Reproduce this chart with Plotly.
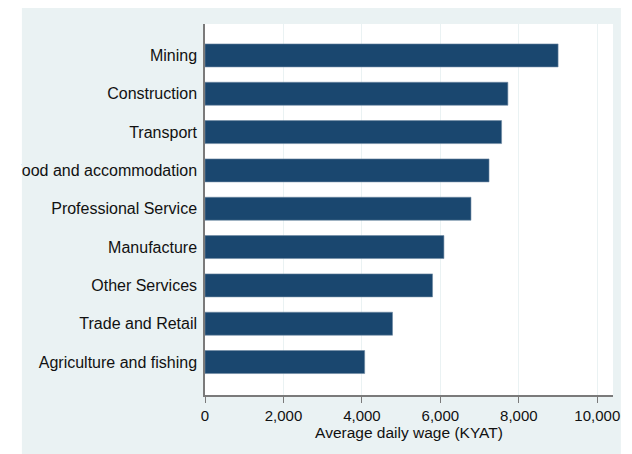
import plotly.graph_objects as go

# sectors listed bottom-to-top (plotly draws category 0 at the bottom)
sectors = ['Agriculture and fishing', 'Trade and Retail', 'Other Services', 'Manufacture',
           'Professional Service', 'Food and accommodation', 'Transport', 'Construction', 'Mining']
wages = [4070, 4780, 5800, 6090, 6780, 7240, 7560, 7720, 9000]
x_ticks = [0, 2000, 4000, 6000, 8000, 10000]
x_ticktext = ['0', '2,000', '4,000', '6,000', '8,000', '10,000']

W, H = 632, 454
L, R, T, B = 199, 19, 24, 59
pw, ph = W - L - R, H - T - B

def px_x(p):
    # figure pixel -> paper fraction
    return (p - L) / pw

def px_y(p):
    return (H - B - p) / ph

fig = go.Figure()
fig.add_trace(go.Bar(
    x=wages, y=sectors, orientation='h',
    marker=dict(color='#1a476f', line=dict(color='#6e8aa3', width=0.6)),
    width=0.6,
))

font = dict(family='Arial, Liberation Sans, sans-serif', color='#111111')

fig.update_layout(
    width=W, height=H,
    margin=dict(l=L, r=R, t=T, b=B),
    paper_bgcolor='white',
    plot_bgcolor='white',
    font=dict(**font, size=15),
    showlegend=False,
    xaxis=dict(
        range=[0, 10400],
        tickvals=x_ticks, ticktext=x_ticktext,
        showgrid=True, gridcolor='#eaf2f3', gridwidth=1,
        showline=True, linecolor='#7a7a7a', linewidth=1.5,
        ticks='outside', ticklen=6, tickcolor='#7a7a7a',
        tickfont=dict(size=15),
        zeroline=False,
        title=dict(text='Average daily wage (KYAT)', font=dict(size=15.5), standoff=0),
    ),
    yaxis=dict(
        type='category',
        categoryorder='array', categoryarray=sectors,
        range=[-0.86, 8.82],
        showgrid=False,
        showline=True, linecolor='#7a7a7a', linewidth=1.5,
        ticks='', ticklabelstandoff=3,
        tickfont=dict(size=16),
        zeroline=False,
    ),
    shapes=[
        # light blue graph region behind everything
        dict(type='rect', xref='paper', yref='paper', layer='below',
             x0=px_x(13), x1=px_x(621), y0=px_y(454), y1=px_y(8),
             fillcolor='#eaf2f3', line=dict(width=0)),
        # white plot area
        dict(type='rect', xref='paper', yref='paper', layer='below',
             x0=0, x1=1, y0=0, y1=1,
             fillcolor='white', line=dict(width=0)),
        # white strip on the far left clipping the long label
        dict(type='rect', xref='paper', yref='paper', layer='above',
             x0=px_x(0), x1=px_x(13), y0=px_y(454), y1=px_y(0),
             fillcolor='white', line=dict(width=0)),
    ],
)

# no body margin and no scrollbars, so the figure fills the window exactly
page_css = ("document.body.style.margin='0';"
            "document.body.style.overflow='hidden';"
            "document.documentElement.style.overflow='hidden';")
fig.write_html("out.html", config={'displayModeBar': False}, post_script=page_css)
